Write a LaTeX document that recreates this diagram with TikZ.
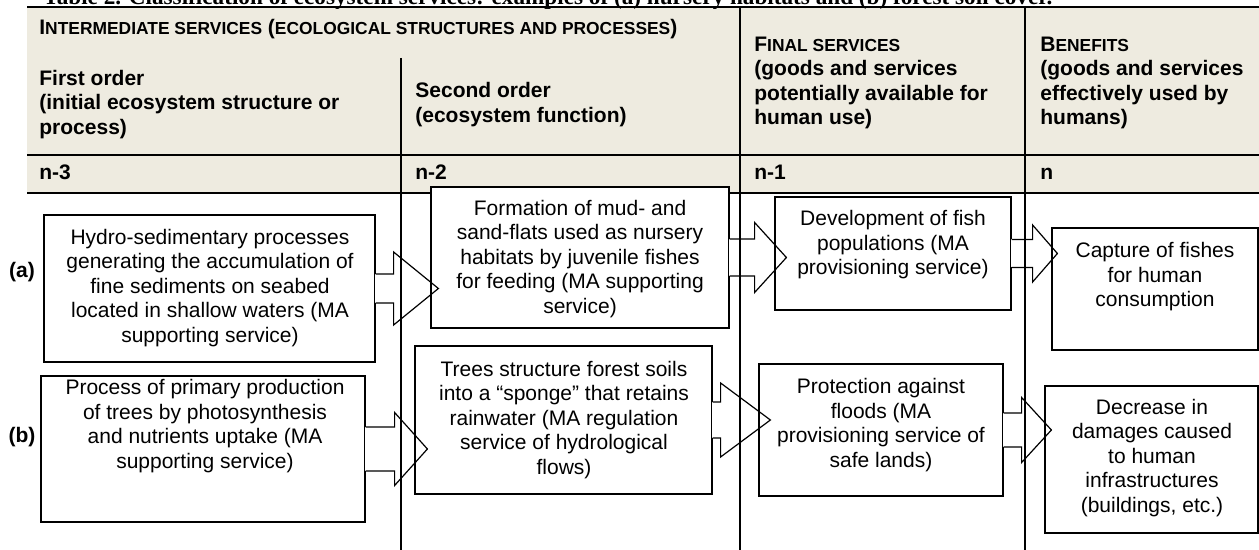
\documentclass[tikz,border=0pt]{standalone}
\usepackage{fontspec}
\setmainfont{Liberation Sans}
\newfontfamily\tabcapfont{Liberation Serif}
\usetikzlibrary{calc}

\definecolor{headbg}{RGB}{238,235,224}

% small capitals faked from a smaller size of the bold face
\newcommand{\smcap}[1]{{\fontsize{8.7}{12.25}\selectfont #1}}

% box with a right arrow pointing into the next box
% #1 from, #2 to, #3 stem half height, #4 head half height, #5 stem length, #6 overlap
\newcommand{\flowarrow}[6]{%
  \coordinate (tip) at ($(#2.west)+(#6,0)$);
  \fill[white] ($(#1.east)+(-1,-#3)$) rectangle ($(#1.east)+(#5,#3)$);
  \draw[edge] ($(#1.east)+(0,-#3)$) -- ($(#1.east)+(#5,-#3)$)
    -- ($(#1.east)+(#5,-#4)$) -- (tip |- #1.east)
    -- ($(#1.east)+(#5,#4)$) -- ($(#1.east)+(#5,#3)$)
    -- ($(#1.east)+(0,#3)$);
}

\tikzset{
  box/.style={draw, line width=0.6pt, fill=white, inner sep=0pt},
  txt/.style={align=center, inner sep=0pt, font=\fontsize{10.5}{12.25}\selectfont},
  head/.style={anchor=west, align=left, inner sep=0pt, font=\bfseries\fontsize{10.5}{12.25}\selectfont},
  rule/.style={line width=0.8pt},
  divider/.style={line width=0.6pt},
  edge/.style={line width=0.6pt, line join=miter},
}

\begin{document}
\begin{tikzpicture}[x=0.5pt, y=-0.5pt]
\useasboundingbox (0,0) rectangle (1259,550);

% header band
\fill[headbg] (27,7) rectangle (1262,193);
\draw[rule] (27,7) -- (1262,7);
\draw[rule] (27,155) -- (1262,155);
\draw[rule] (27,193) -- (1262,193);

\node[anchor=base west, inner sep=0pt, font=\tabcapfont\bfseries\fontsize{11.6}{13}\selectfont] (caption) at (43,4.5)
  {Table 2. Classification of ecosystem services: examples of (a) nursery habitats and (b) forest soil cover.};

\node[head, anchor=base west] (inter) at (39,35) {I\smcap{NTERMEDIATE SERVICES} (\smcap{ECOLOGICAL STRUCTURES AND PROCESSES})};
\node[head] (first) at (39,104.5) {First order\\(initial ecosystem structure or\\process)};
\node[head] (second) at (415,104.5) {Second order\\(ecosystem function)};
\node[head] (final) at (754,83) {F\smcap{INAL SERVICES}\\(goods and services\\potentially available for\\human use)};
\node[head] (benefit) at (1040,83) {B\smcap{ENEFITS}\\(goods and services\\effectively used by\\humans)};

\node[head, anchor=base west] (n3) at (39,180) {n-3};
\node[head, anchor=base west] (n2) at (415,180) {n-2};
\node[head, anchor=base west] (n1) at (754,180) {n-1};
\node[head, anchor=base west] (n0) at (1040,180) {n};

% row labels
\node[head, anchor=center] (rowa) at (22,272) {(a)};
\node[head, anchor=center] (rowb) at (22,437) {(b)};

% (a) nursery habitats
\node[box, minimum width=165.5pt, minimum height=73.5pt] (hydro) at (209.5,288.5) {};
\node[box, minimum width=149pt, minimum height=70.5pt] (mudflat) at (580,257.5) {};
\node[box, minimum width=118pt, minimum height=56.5pt] (fishpop) at (893,253.5) {};
\node[box, minimum width=103pt, minimum height=61pt] (capture) at (1155,289) {};

% (b) forest soil cover
\node[box, minimum width=162pt, minimum height=73pt] (primprod) at (203,449) {};
\node[box, minimum width=148.5pt, minimum height=74pt] (sponge) at (563.5,420) {};
\node[box, minimum width=122pt, minimum height=66pt] (floods) at (881,430) {};
\node[box, minimum width=106.5pt, minimum height=73.5pt] (damage) at (1151.5,459.5) {};

\flowarrow{hydro}{mudflat}{14.5}{36.5}{18}{8}
\flowarrow{mudflat}{fishpop}{18.5}{35}{25}{12}
\flowarrow{fishpop}{capture}{14}{28.5}{21}{6}
\flowarrow{primprod}{sponge}{22}{36.5}{29}{13}
\flowarrow{sponge}{floods}{18}{37}{8}{12}
\flowarrow{floods}{damage}{17}{32.5}{18}{7}

\node[txt] (hydrotext) at (210,288) {Hydro-sedimentary processes\\generating the accumulation of\\fine sediments on seabed\\located in shallow waters (MA\\supporting service)};
\node[txt] (mudflattext) at (580,259) {Formation of mud- and\\sand-flats used as nursery\\habitats by juvenile fishes\\for feeding (MA supporting\\service)};
\node[txt] (fishpoptext) at (893,245) {Development of fish\\populations (MA\\provisioning service)};
\node[txt] (capturetext) at (1155,277) {Capture of fishes\\for human\\consumption};

\node[txt] (primprodtext) at (205,426) {Process of primary production\\of trees by photosynthesis\\and nutrients uptake (MA\\supporting service)};
\node[txt] (spongetext) at (564,420) {Trees structure forest soils\\into a ``sponge'' that retains\\rainwater (MA regulation\\service of hydrological\\flows)};
\node[txt] (floodstext) at (881,425) {Protection against\\floods (MA\\provisioning service of\\safe lands)};
\node[txt] (damagetext) at (1152,458) {Decrease in\\damages caused\\to human\\infrastructures\\(buildings, etc.)};

% column dividers
\draw[divider] (401,58) -- (401,550);
\draw[divider] (740,7) -- (740,550);
\draw[divider] (1025,7) -- (1025,550);
\end{tikzpicture}
\end{document}
